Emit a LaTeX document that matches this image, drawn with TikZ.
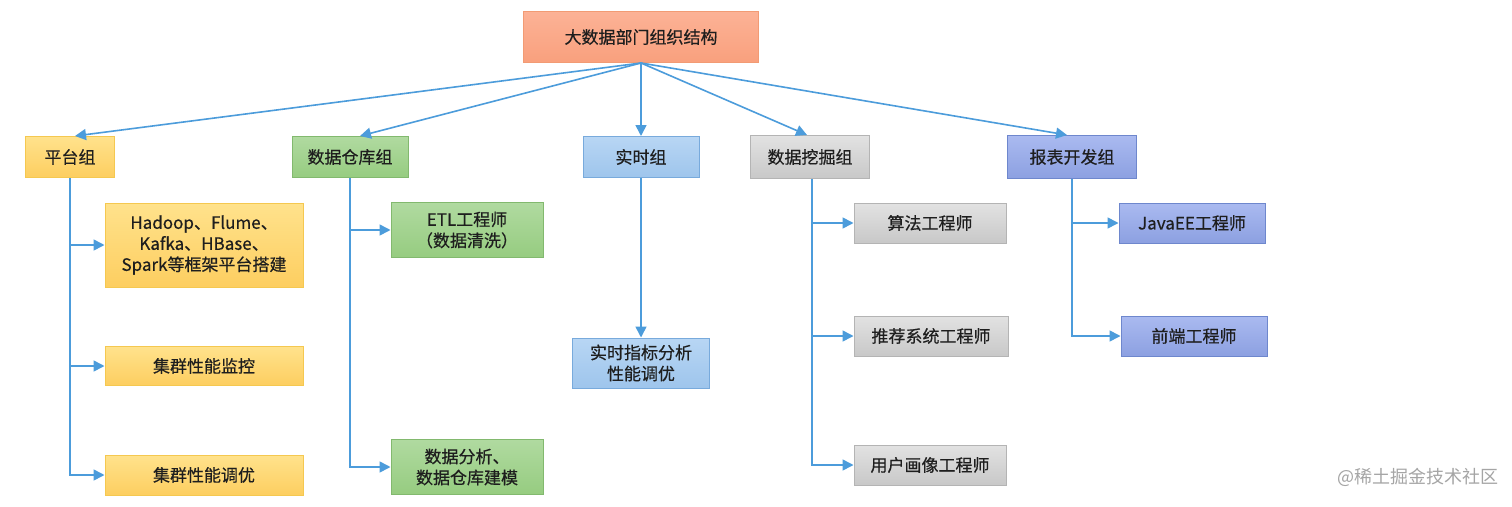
\documentclass[tikz,border=0pt]{standalone}
\usepackage{fontspec}
\setmainfont{Noto Sans CJK SC}[FakeBold=0.5]
\newfontfamily\wmfont{Noto Sans CJK SC}
\usetikzlibrary{arrows.meta}
\definecolor{lineblue}{HTML}{4C9CDB}
\definecolor{txt}{HTML}{1E1E1E}
\definecolor{salD}{HTML}{F29B74}\definecolor{salT}{RGB}{252,178,150}\definecolor{salB}{RGB}{249,160,125}
\definecolor{yelD}{RGB}{245,200,80}\definecolor{yelT}{RGB}{255,226,140}\definecolor{yelB}{RGB}{253,206,96}
\definecolor{grnD}{RGB}{130,185,110}\definecolor{grnT}{RGB}{176,218,160}\definecolor{grnB}{RGB}{150,204,128}
\definecolor{lblD}{RGB}{120,170,220}\definecolor{lblT}{RGB}{184,214,244}\definecolor{lblB}{RGB}{158,197,236}
\definecolor{gryD}{RGB}{180,180,180}\definecolor{gryT}{RGB}{226,226,226}\definecolor{gryB}{RGB}{200,200,200}
\definecolor{purD}{RGB}{110,135,205}\definecolor{purT}{RGB}{170,186,240}\definecolor{purB}{RGB}{140,160,225}
\definecolor{wmgrey}{RGB}{165,165,165}
\tikzset{
  box/.style={line width=1pt, inner sep=0pt, align=center, text=txt,
    font=\fontsize{17}{21}\selectfont},
  salmonbox/.style={box, draw=salD, top color=salT, bottom color=salB},
  yellowbox/.style={box, draw=yelD, top color=yelT, bottom color=yelB},
  greenbox/.style={box, draw=grnD, top color=grnT, bottom color=grnB},
  lbluebox/.style={box, draw=lblD, top color=lblT, bottom color=lblB},
  greybox/.style={box, draw=gryD, top color=gryT, bottom color=gryB},
  purplebox/.style={box, draw=purD, top color=purT, bottom color=purB},
  conn/.style={draw=lineblue, line width=1.6pt, -{Triangle[length=11pt,width=11pt]}},
}
\begin{document}
\begin{tikzpicture}[x=1pt,y=-1pt]
\useasboundingbox[fill=white] (0,0) rectangle (1512,506);
% root
\node[salmonbox, minimum width=235pt, minimum height=51pt] (root) at (641,37) {大数据部门组织结构};
% groups
\node[yellowbox, minimum width=89pt, minimum height=41pt] (g1) at (70,157) {平台组};
\node[greenbox, minimum width=116pt, minimum height=41pt] (g2) at (350,157) {数据仓库组};
\node[lbluebox, minimum width=116pt, minimum height=41pt] (g3) at (641,157) {实时组};
\node[greybox, minimum width=119pt, minimum height=43pt] (g4) at (810,157) {数据挖掘组};
\node[purplebox, minimum width=129pt, minimum height=43pt] (g5) at (1072,157) {报表开发组};
% children platform
\node[yellowbox, minimum width=198pt, minimum height=84pt] (c11) at (204,245) {Hadoop、Flume、\\Kafka、HBase、\\Spark等框架平台搭建};
\node[yellowbox, minimum width=198pt, minimum height=39pt] (c12) at (204,366) {集群性能监控};
\node[yellowbox, minimum width=198pt, minimum height=40pt] (c13) at (204,475) {集群性能调优};
% children warehouse
\node[greenbox, minimum width=152pt, minimum height=55pt] (c21) at (467,230) {ETL工程师\\（数据清洗）};
\node[greenbox, minimum width=152pt, minimum height=55pt] (c22) at (467,467) {数据分析、\\数据仓库建模};
% realtime
\node[lbluebox, minimum width=137pt, minimum height=50pt] (c31) at (641,363) {实时指标分析\\性能调优};
% mining
\node[greybox, minimum width=152pt, minimum height=40pt] (c41) at (930,223) {算法工程师};
\node[greybox, minimum width=154pt, minimum height=40pt] (c42) at (931,336) {推荐系统工程师};
\node[greybox, minimum width=152pt, minimum height=40pt] (c43) at (930,465) {用户画像工程师};
% report
\node[purplebox, minimum width=146pt, minimum height=40pt] (c51) at (1192,223) {JavaEE工程师};
\node[purplebox, minimum width=146pt, minimum height=40pt] (c52) at (1194,336) {前端工程师};
% watermark
\node[text=wmgrey, font=\wmfont\fontsize{18}{20}\selectfont, inner sep=0pt] (wm) at (1418,477) {@稀土掘金技术社区};
% fan-out
\draw[conn] (root.south) -- ([xshift=5pt]g1.north);
\draw[conn] (root.south) -- ([xshift=10pt]g2.north);
\draw[conn] (root.south) -- (g3.north);
\draw[conn] (root.south) -- ([xshift=-3pt]g4.north);
\draw[conn] (root.south) -- ([xshift=-5pt]g5.north);
% trees
\draw[conn] (g1.south) |- (c11.west);
\draw[conn] (g1.south) |- (c12.west);
\draw[conn] (g1.south) |- (c13.west);
\draw[conn] (g2.south) |- (c21.west);
\draw[conn] (g2.south) |- (c22.west);
\draw[conn] (g3.south) -- (c31.north);
\draw[conn] ([xshift=2pt]g4.south) |- (c41.west);
\draw[conn] ([xshift=2pt]g4.south) |- (c42.west);
\draw[conn] ([xshift=2pt]g4.south) |- (c43.west);
\draw[conn] (g5.south) |- (c51.west);
\draw[conn] (g5.south) |- (c52.west);
\end{tikzpicture}
\end{document}
